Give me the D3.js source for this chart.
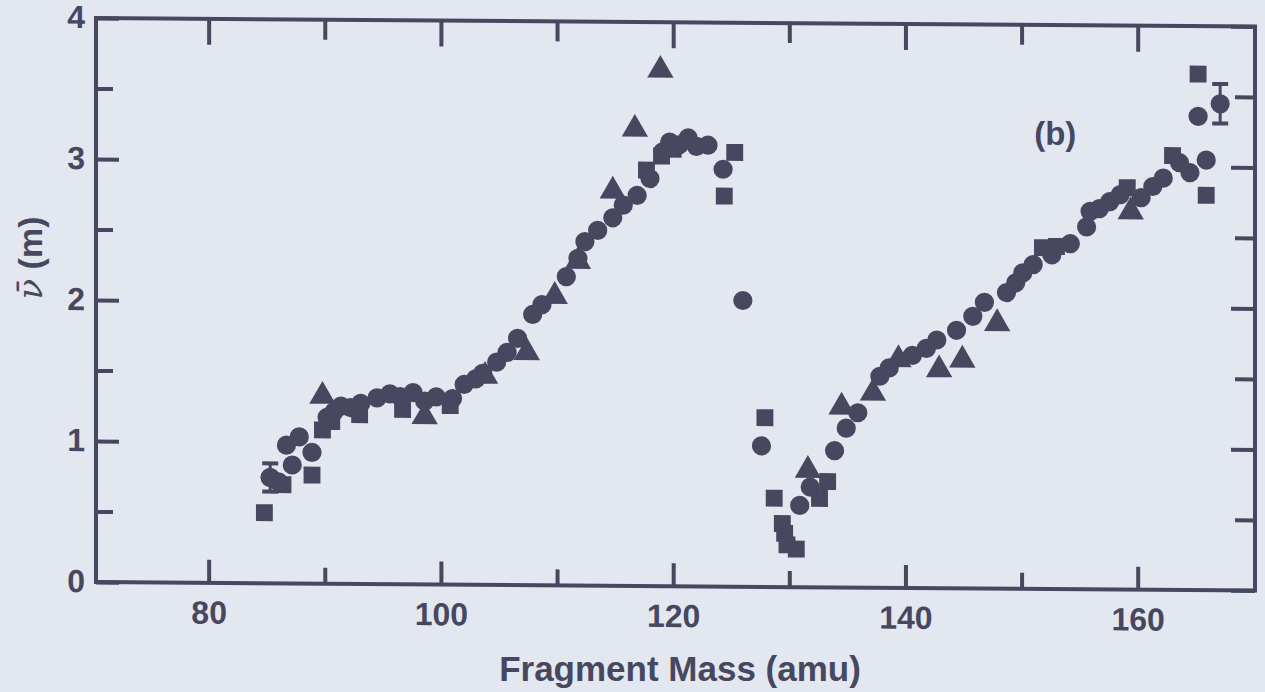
<!DOCTYPE html>
<html>
<head>
<meta charset="utf-8">
<script src="https://cdn.jsdelivr.net/npm/d3@7"></script>
<style>
  html, body { margin: 0; padding: 0; background: #e3e7ef; }
  svg { display: block; }
</style>
</head>
<body>
<script>
// data: [fragment mass (amu), nu-bar]
const circles = [
  [85.3, 0.75], [86.0, 0.72], [86.7, 0.98], [87.2, 0.84], [87.8, 1.04], [88.9, 0.93],
  [90.2, 1.18], [90.8, 1.22], [91.4, 1.26], [92.2, 1.25], [93.1, 1.28], [94.5, 1.32],
  [95.6, 1.35], [96.5, 1.33], [97.6, 1.36], [98.6, 1.30], [99.6, 1.33], [101.0, 1.32],
  [102.0, 1.42], [103.0, 1.46], [103.6, 1.50], [104.8, 1.58], [105.7, 1.65], [106.6, 1.75],
  [107.9, 1.92], [108.7, 1.99], [110.8, 2.19], [111.8, 2.32], [112.4, 2.44], [113.5, 2.52],
  [114.8, 2.61], [115.7, 2.70], [116.9, 2.77], [118.0, 2.89], [119.1, 3.08], [119.7, 3.15],
  [120.5, 3.13], [121.3, 3.18], [122.0, 3.12], [123.0, 3.13], [124.3, 2.96], [126.0, 2.03],
  [127.6, 1.00], [130.9, 0.58], [131.8, 0.71], [133.9, 0.97], [134.9, 1.13], [135.9, 1.24],
  [137.8, 1.50], [138.6, 1.56], [140.6, 1.65], [141.8, 1.70], [142.7, 1.76], [144.4, 1.83],
  [145.8, 1.93], [146.8, 2.03], [148.7, 2.10], [149.5, 2.17], [150.1, 2.24], [151.0, 2.30],
  [152.6, 2.37], [154.2, 2.45], [155.6, 2.57], [155.9, 2.68], [156.7, 2.70], [157.6, 2.75],
  [158.5, 2.80], [160.3, 2.78], [161.3, 2.86], [162.2, 2.92], [163.6, 3.03], [164.5, 2.96],
  [165.2, 3.36], [165.9, 3.05]
];

const squares = [
  [84.8, 0.50], [86.4, 0.70], [88.9, 0.77], [89.8, 1.09], [90.6, 1.15], [93.0, 1.20],
  [96.7, 1.24], [100.8, 1.27], [117.7, 2.95], [119.0, 3.05], [120.0, 3.10], [124.4, 2.77],
  [125.3, 3.08], [127.9, 1.20], [128.7, 0.63], [129.4, 0.45], [129.6, 0.38], [129.8, 0.30],
  [130.6, 0.27], [132.6, 0.63], [133.3, 0.75], [151.8, 2.42], [153.0, 2.43], [159.1, 2.85],
  [163.0, 3.08], [165.2, 3.66], [165.9, 2.80]
];

const triangles = [
  [89.8, 1.33], [98.6, 1.19], [103.8, 1.48], [107.4, 1.65], [109.8, 2.05], [111.8, 2.30],
  [114.8, 2.80], [116.7, 3.24], [118.9, 3.66], [131.6, 0.83], [134.5, 1.28], [137.2, 1.38],
  [139.4, 1.62], [142.9, 1.55], [144.9, 1.62], [147.9, 1.88], [159.4, 2.68]
];

// points carrying an error bar: [mass, nu, half-width]
const errorPoints = [[85.3, 0.75, 0.10], [167.1, 3.45, 0.14]];

const xMajor = [80, 100, 120, 140, 160];
const xMinor = [90, 110, 130, 150];
const yMajor = [0, 1, 2, 3, 4];
const yMinor = [0.5, 1.5, 2.5, 3.5];

// layout
const width = 1265;
const height = 692;
const margin = { top: 18, left: 96 };
const plotW = 1159;
const plotH = 564;
const ink = '#474760';
const font = 'Liberation Sans, Arial, sans-serif';

const svg = d3.select('body')
  .append('svg')
  .attr('width', width)
  .attr('height', height)

// the scanned frame is slightly tilted, right side sits lower
const g = svg.append('g')
  .attr('transform', `translate(${margin.left}, ${margin.top}) skewY(0.42)`)

const xScale = d3.scaleLinear()
  .domain([70.3, 170.1])
  .range([0, plotW])

const yScale = d3.scaleLinear()
  .domain([0, 4])
  .range([plotH, 0])

// frame
g.append('rect')
  .attr('width', plotW)
  .attr('height', plotH)
  .attr('fill', 'none')
  .attr('stroke', ink)
  .attr('stroke-width', 4)

function styleAxis(sel) {
  sel.select('.domain').remove();
  sel.selectAll('.tick line').attr('stroke', ink).attr('stroke-width', 4);
  sel.selectAll('.tick text')
    .attr('fill', ink)
    .style('font-family', font)
    .style('font-weight', 'bold')
    .style('font-size', '32px');
}

// bottom axis with labels
g.append('g')
  .attr('transform', `translate(0, ${plotH})`)
  .call(d3.axisBottom(xScale).tickValues(xMajor).tickSize(-23).tickPadding(18).tickFormat(d3.format('d')))
  .call(styleAxis)
g.append('g')
  .attr('transform', `translate(0, ${plotH})`)
  .call(d3.axisBottom(xScale).tickValues(xMinor).tickSize(-16).tickFormat(''))
  .call(styleAxis)

// top axis
g.append('g')
  .call(d3.axisTop(xScale).tickValues(xMajor).tickSize(-26).tickFormat(''))
  .call(styleAxis)
g.append('g')
  .call(d3.axisTop(xScale).tickValues(xMinor).tickSize(-20).tickFormat(''))
  .call(styleAxis)

// left axis with labels
g.append('g')
  .call(d3.axisLeft(yScale).tickValues(yMajor).tickSize(-23).tickPadding(11).tickFormat(d3.format('d')))
  .call(styleAxis)
  .selectAll('.tick text').attr('dy', '0.3em')
g.append('g')
  .call(d3.axisLeft(yScale).tickValues(yMinor).tickSize(-17).tickFormat(''))
  .call(styleAxis)

// right axis
g.append('g')
  .attr('transform', `translate(${plotW}, 0)`)
  .call(d3.axisRight(yScale).tickValues(yMajor).tickSize(-24).tickFormat(''))
  .call(styleAxis)
g.append('g')
  .attr('transform', `translate(${plotW}, 0)`)
  .call(d3.axisRight(yScale).tickValues(yMinor).tickSize(-20).tickFormat(''))
  .call(styleAxis)

// markers
const marks = g.append('g').attr('fill', ink);

function drawSeries(data, type, size) {
  marks.selectAll(null)
    .data(data)
    .join('path')
    .attr('transform', (d) => `translate(${xScale(d[0])}, ${yScale(d[1])})`)
    .attr('d', d3.symbol().type(type).size(size))
}

drawSeries(squares, d3.symbolSquare, 285);
drawSeries(triangles, d3.symbolTriangle, 300);
drawSeries(circles, d3.symbolCircle, 290);

// error bar points
const eb = marks.selectAll(null).data(errorPoints).join('g');
eb.append('line')
  .attr('x1', (d) => xScale(d[0])).attr('x2', (d) => xScale(d[0]))
  .attr('y1', (d) => yScale(d[1] - d[2])).attr('y2', (d) => yScale(d[1] + d[2]))
  .attr('stroke', ink).attr('stroke-width', 3)
eb.append('line')
  .attr('x1', (d) => xScale(d[0]) - 8).attr('x2', (d) => xScale(d[0]) + 8)
  .attr('y1', (d) => yScale(d[1] - d[2])).attr('y2', (d) => yScale(d[1] - d[2]))
  .attr('stroke', ink).attr('stroke-width', 4)
eb.append('line')
  .attr('x1', (d) => xScale(d[0]) - 8).attr('x2', (d) => xScale(d[0]) + 8)
  .attr('y1', (d) => yScale(d[1] + d[2])).attr('y2', (d) => yScale(d[1] + d[2]))
  .attr('stroke', ink).attr('stroke-width', 4)
eb.append('path')
  .attr('transform', (d) => `translate(${xScale(d[0])}, ${yScale(d[1])})`)
  .attr('d', d3.symbol().type(d3.symbolCircle).size(290))

// panel label
g.append('text')
  .attr('x', xScale(152.9))
  .attr('y', yScale(3.15))
  .attr('text-anchor', 'middle')
  .attr('fill', ink)
  .style('font-family', font)
  .style('font-weight', 'bold')
  .style('font-size', '33px')
  .text('(b)')

// axis titles
svg.append('text')
  .attr('x', 680)
  .attr('y', 681)
  .attr('text-anchor', 'middle')
  .attr('fill', ink)
  .style('font-family', font)
  .style('font-weight', 'bold')
  .style('font-size', '35px')
  .text('Fragment Mass (amu)')

const yTitle = svg.append('text')
  .attr('transform', 'translate(42, 258) rotate(-90)')
  .attr('text-anchor', 'middle')
  .attr('fill', ink)
  .style('font-family', font)
  .style('font-weight', 'bold')
  .style('font-size', '34px')
yTitle.append('tspan')
  .style('font-family', 'DejaVu Serif, serif')
  .style('font-style', 'italic')
  .style('font-weight', 'normal')
  .text('\u03BD\u0304')
yTitle.append('tspan').text(' (m)')
</script>
</body>
</html>
